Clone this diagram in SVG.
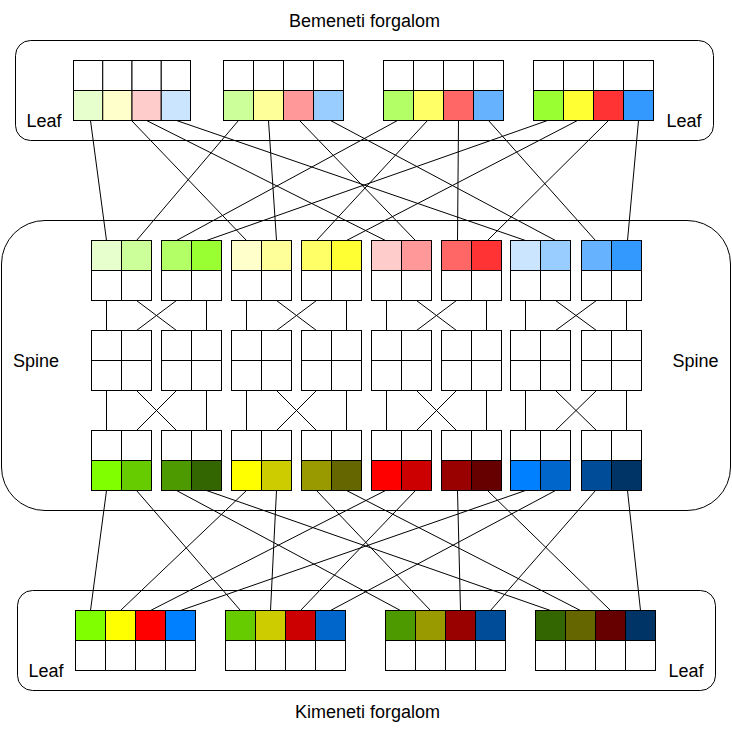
<svg xmlns="http://www.w3.org/2000/svg" width="732" height="731" viewBox="0 0 732 731">
<style>
.bg{fill:#fff}
.box{fill:none;stroke:#000;stroke-width:1}
.c{stroke:#000;stroke-width:1}
.w{fill:#fff}
.e line{stroke:#000;stroke-width:1;fill:none}
.t{font-family:"Liberation Sans",Arial,Helvetica,sans-serif;font-size:18px;fill:#000;text-anchor:middle}
</style>
<rect class="bg" x="0" y="0" width="732" height="731"/>
<g transform="translate(0.5,0.5)">
<g id="title-in"><text class="t" x="364" y="26.5">Bemeneti forgalom</text></g>
<g id="title-out"><text class="t" x="367" y="717">Kimeneti forgalom</text></g>

<g id="leaf-top-container">
<rect class="box" x="15" y="40" width="698" height="100" rx="15" ry="15"/>
<text class="t" x="43.5" y="126">Leaf</text>
<text class="t" x="683.5" y="126">Leaf</text>
</g>
<g id="spine-container">
<rect class="box" x="1" y="220" width="729" height="290" rx="43.5" ry="43.5"/>
<text class="t" x="35.5" y="366">Spine</text>
<text class="t" x="695" y="366">Spine</text>
</g>
<g id="leaf-bottom-container">
<rect class="box" x="17" y="590" width="698" height="100" rx="15" ry="15"/>
<text class="t" x="45.5" y="676">Leaf</text>
<text class="t" x="685.5" y="676">Leaf</text>
</g>

<g id="connectors" class="e">
<!-- top leaf to spine -->
<line x1="90" y1="120" x2="106" y2="240"/>
<line x1="131" y1="120" x2="246" y2="240"/>
<line x1="146" y1="120" x2="385" y2="240"/>
<line x1="176" y1="120" x2="525" y2="240"/>
<line x1="238" y1="120" x2="136" y2="240"/>
<line x1="268" y1="120" x2="276" y2="240"/>
<line x1="299" y1="120" x2="415" y2="240"/>
<line x1="330" y1="120" x2="555" y2="240"/>
<line x1="397" y1="120" x2="176" y2="240"/>
<line x1="427" y1="120" x2="316" y2="240"/>
<line x1="458" y1="120" x2="457" y2="240"/>
<line x1="488" y1="120" x2="595" y2="240"/>
<line x1="547" y1="120" x2="206" y2="240"/>
<line x1="577" y1="120" x2="346" y2="240"/>
<line x1="608" y1="120" x2="487" y2="240"/>
<line x1="638" y1="120" x2="627" y2="240"/>
<!-- spine to bottom leaf -->
<line x1="106" y1="490" x2="90" y2="610"/>
<line x1="136" y1="490" x2="240" y2="610"/>
<line x1="176" y1="490" x2="400" y2="610"/>
<line x1="206" y1="490" x2="550" y2="610"/>
<line x1="246" y1="490" x2="120" y2="610"/>
<line x1="276" y1="490" x2="270" y2="610"/>
<line x1="316" y1="490" x2="430" y2="610"/>
<line x1="346" y1="490" x2="580" y2="610"/>
<line x1="385" y1="490" x2="150" y2="610"/>
<line x1="415" y1="490" x2="300" y2="610"/>
<line x1="457" y1="490" x2="460" y2="610"/>
<line x1="487" y1="490" x2="610" y2="610"/>
<line x1="525" y1="490" x2="180" y2="610"/>
<line x1="555" y1="490" x2="330" y2="610"/>
<line x1="595" y1="490" x2="490" y2="610"/>
<line x1="627" y1="490" x2="640" y2="610"/>
<!-- spine internal: rows 300-330 -->
<line x1="106" y1="300" x2="106" y2="330"/><line x1="206" y1="300" x2="206" y2="330"/>
<line x1="136" y1="300" x2="176" y2="330"/><line x1="176" y1="300" x2="136" y2="330"/>
<line x1="246" y1="300" x2="246" y2="330"/><line x1="346" y1="300" x2="346" y2="330"/>
<line x1="276" y1="300" x2="316" y2="330"/><line x1="316" y1="300" x2="276" y2="330"/>
<line x1="386" y1="300" x2="386" y2="330"/><line x1="486" y1="300" x2="486" y2="330"/>
<line x1="416" y1="300" x2="456" y2="330"/><line x1="456" y1="300" x2="416" y2="330"/>
<line x1="525" y1="300" x2="525" y2="330"/><line x1="626" y1="300" x2="626" y2="330"/>
<line x1="555" y1="300" x2="596" y2="330"/><line x1="596" y1="300" x2="555" y2="330"/>
<!-- spine internal: rows 390-430 -->
<line x1="106" y1="390" x2="106" y2="430"/><line x1="206" y1="390" x2="206" y2="430"/>
<line x1="136" y1="390" x2="176" y2="430"/><line x1="176" y1="390" x2="136" y2="430"/>
<line x1="246" y1="390" x2="246" y2="430"/><line x1="346" y1="390" x2="346" y2="430"/>
<line x1="276" y1="390" x2="316" y2="430"/><line x1="316" y1="390" x2="276" y2="430"/>
<line x1="386" y1="390" x2="386" y2="430"/><line x1="486" y1="390" x2="486" y2="430"/>
<line x1="416" y1="390" x2="456" y2="430"/><line x1="456" y1="390" x2="416" y2="430"/>
<line x1="525" y1="390" x2="525" y2="430"/><line x1="626" y1="390" x2="626" y2="430"/>
<line x1="555" y1="390" x2="596" y2="430"/><line x1="596" y1="390" x2="555" y2="430"/>
</g>

<!-- top leaf blocks -->
<g id="leaf-in-1">
<rect class="c w" x="73" y="60" width="29.25" height="30"/><rect class="c w" x="102.25" y="60" width="29.25" height="30"/><rect class="c w" x="131.5" y="60" width="29.25" height="30"/><rect class="c w" x="160.75" y="60" width="29.25" height="30"/>
<rect class="c" fill="#E6FFCC" x="73" y="90" width="29.25" height="30"/><rect class="c" fill="#FFFFCC" x="102.25" y="90" width="29.25" height="30"/><rect class="c" fill="#FFCCCC" x="131.5" y="90" width="29.25" height="30"/><rect class="c" fill="#CCE5FF" x="160.75" y="90" width="29.25" height="30"/>
</g>
<g id="leaf-in-2">
<rect class="c w" x="223" y="60" width="30" height="30"/><rect class="c w" x="253" y="60" width="30" height="30"/><rect class="c w" x="283" y="60" width="30" height="30"/><rect class="c w" x="313" y="60" width="30" height="30"/>
<rect class="c" fill="#CCFF99" x="223" y="90" width="30" height="30"/><rect class="c" fill="#FFFF99" x="253" y="90" width="30" height="30"/><rect class="c" fill="#FF9999" x="283" y="90" width="30" height="30"/><rect class="c" fill="#99CCFF" x="313" y="90" width="30" height="30"/>
</g>
<g id="leaf-in-3">
<rect class="c w" x="383" y="60" width="30" height="30"/><rect class="c w" x="413" y="60" width="30" height="30"/><rect class="c w" x="443" y="60" width="30" height="30"/><rect class="c w" x="473" y="60" width="30" height="30"/>
<rect class="c" fill="#B3FF66" x="383" y="90" width="30" height="30"/><rect class="c" fill="#FFFF66" x="413" y="90" width="30" height="30"/><rect class="c" fill="#FF6666" x="443" y="90" width="30" height="30"/><rect class="c" fill="#66B2FF" x="473" y="90" width="30" height="30"/>
</g>
<g id="leaf-in-4">
<rect class="c w" x="533" y="60" width="30" height="30"/><rect class="c w" x="563" y="60" width="30" height="30"/><rect class="c w" x="593" y="60" width="30" height="30"/><rect class="c w" x="623" y="60" width="30" height="30"/>
<rect class="c" fill="#99FF33" x="533" y="90" width="30" height="30"/><rect class="c" fill="#FFFF33" x="563" y="90" width="30" height="30"/><rect class="c" fill="#FF3333" x="593" y="90" width="30" height="30"/><rect class="c" fill="#3399FF" x="623" y="90" width="30" height="30"/>
</g>

<!-- spine blocks: top row -->
<g id="spine-top-1"><rect class="c" fill="#E6FFCC" x="91" y="240" width="30" height="30"/><rect class="c" fill="#CCFF99" x="121" y="240" width="30" height="30"/><rect class="c w" x="91" y="270" width="30" height="30"/><rect class="c w" x="121" y="270" width="30" height="30"/></g>
<g id="spine-top-2"><rect class="c" fill="#B3FF66" x="161" y="240" width="30" height="30"/><rect class="c" fill="#99FF33" x="191" y="240" width="30" height="30"/><rect class="c w" x="161" y="270" width="30" height="30"/><rect class="c w" x="191" y="270" width="30" height="30"/></g>
<g id="spine-top-3"><rect class="c" fill="#FFFFCC" x="231" y="240" width="30" height="30"/><rect class="c" fill="#FFFF99" x="261" y="240" width="30" height="30"/><rect class="c w" x="231" y="270" width="30" height="30"/><rect class="c w" x="261" y="270" width="30" height="30"/></g>
<g id="spine-top-4"><rect class="c" fill="#FFFF66" x="301" y="240" width="30" height="30"/><rect class="c" fill="#FFFF33" x="331" y="240" width="30" height="30"/><rect class="c w" x="301" y="270" width="30" height="30"/><rect class="c w" x="331" y="270" width="30" height="30"/></g>
<g id="spine-top-5"><rect class="c" fill="#FFCCCC" x="371" y="240" width="30" height="30"/><rect class="c" fill="#FF9999" x="401" y="240" width="30" height="30"/><rect class="c w" x="371" y="270" width="30" height="30"/><rect class="c w" x="401" y="270" width="30" height="30"/></g>
<g id="spine-top-6"><rect class="c" fill="#FF6666" x="441" y="240" width="30" height="30"/><rect class="c" fill="#FF3333" x="471" y="240" width="30" height="30"/><rect class="c w" x="441" y="270" width="30" height="30"/><rect class="c w" x="471" y="270" width="30" height="30"/></g>
<g id="spine-top-7"><rect class="c" fill="#CCE5FF" x="510" y="240" width="30" height="30"/><rect class="c" fill="#99CCFF" x="540" y="240" width="30" height="30"/><rect class="c w" x="510" y="270" width="30" height="30"/><rect class="c w" x="540" y="270" width="30" height="30"/></g>
<g id="spine-top-8"><rect class="c" fill="#66B2FF" x="581" y="240" width="30" height="30"/><rect class="c" fill="#3399FF" x="611" y="240" width="30" height="30"/><rect class="c w" x="581" y="270" width="30" height="30"/><rect class="c w" x="611" y="270" width="30" height="30"/></g>

<!-- spine blocks: middle row -->
<g id="spine-mid-1"><rect class="c w" x="91" y="330" width="30" height="30"/><rect class="c w" x="121" y="330" width="30" height="30"/><rect class="c w" x="91" y="360" width="30" height="30"/><rect class="c w" x="121" y="360" width="30" height="30"/></g>
<g id="spine-mid-2"><rect class="c w" x="161" y="330" width="30" height="30"/><rect class="c w" x="191" y="330" width="30" height="30"/><rect class="c w" x="161" y="360" width="30" height="30"/><rect class="c w" x="191" y="360" width="30" height="30"/></g>
<g id="spine-mid-3"><rect class="c w" x="231" y="330" width="30" height="30"/><rect class="c w" x="261" y="330" width="30" height="30"/><rect class="c w" x="231" y="360" width="30" height="30"/><rect class="c w" x="261" y="360" width="30" height="30"/></g>
<g id="spine-mid-4"><rect class="c w" x="301" y="330" width="30" height="30"/><rect class="c w" x="331" y="330" width="30" height="30"/><rect class="c w" x="301" y="360" width="30" height="30"/><rect class="c w" x="331" y="360" width="30" height="30"/></g>
<g id="spine-mid-5"><rect class="c w" x="371" y="330" width="30" height="30"/><rect class="c w" x="401" y="330" width="30" height="30"/><rect class="c w" x="371" y="360" width="30" height="30"/><rect class="c w" x="401" y="360" width="30" height="30"/></g>
<g id="spine-mid-6"><rect class="c w" x="441" y="330" width="30" height="30"/><rect class="c w" x="471" y="330" width="30" height="30"/><rect class="c w" x="441" y="360" width="30" height="30"/><rect class="c w" x="471" y="360" width="30" height="30"/></g>
<g id="spine-mid-7"><rect class="c w" x="510" y="330" width="30" height="30"/><rect class="c w" x="540" y="330" width="30" height="30"/><rect class="c w" x="510" y="360" width="30" height="30"/><rect class="c w" x="540" y="360" width="30" height="30"/></g>
<g id="spine-mid-8"><rect class="c w" x="581" y="330" width="30" height="30"/><rect class="c w" x="611" y="330" width="30" height="30"/><rect class="c w" x="581" y="360" width="30" height="30"/><rect class="c w" x="611" y="360" width="30" height="30"/></g>

<!-- spine blocks: bottom row -->
<g id="spine-bot-1"><rect class="c w" x="91" y="430" width="30" height="30"/><rect class="c w" x="121" y="430" width="30" height="30"/><rect class="c" fill="#80FF00" x="91" y="460" width="30" height="30"/><rect class="c" fill="#66CC00" x="121" y="460" width="30" height="30"/></g>
<g id="spine-bot-2"><rect class="c w" x="161" y="430" width="30" height="30"/><rect class="c w" x="191" y="430" width="30" height="30"/><rect class="c" fill="#4D9900" x="161" y="460" width="30" height="30"/><rect class="c" fill="#336600" x="191" y="460" width="30" height="30"/></g>
<g id="spine-bot-3"><rect class="c w" x="231" y="430" width="30" height="30"/><rect class="c w" x="261" y="430" width="30" height="30"/><rect class="c" fill="#FFFF00" x="231" y="460" width="30" height="30"/><rect class="c" fill="#CCCC00" x="261" y="460" width="30" height="30"/></g>
<g id="spine-bot-4"><rect class="c w" x="301" y="430" width="30" height="30"/><rect class="c w" x="331" y="430" width="30" height="30"/><rect class="c" fill="#999900" x="301" y="460" width="30" height="30"/><rect class="c" fill="#666600" x="331" y="460" width="30" height="30"/></g>
<g id="spine-bot-5"><rect class="c w" x="371" y="430" width="30" height="30"/><rect class="c w" x="401" y="430" width="30" height="30"/><rect class="c" fill="#FF0000" x="371" y="460" width="30" height="30"/><rect class="c" fill="#CC0000" x="401" y="460" width="30" height="30"/></g>
<g id="spine-bot-6"><rect class="c w" x="441" y="430" width="30" height="30"/><rect class="c w" x="471" y="430" width="30" height="30"/><rect class="c" fill="#990000" x="441" y="460" width="30" height="30"/><rect class="c" fill="#660000" x="471" y="460" width="30" height="30"/></g>
<g id="spine-bot-7"><rect class="c w" x="510" y="430" width="30" height="30"/><rect class="c w" x="540" y="430" width="30" height="30"/><rect class="c" fill="#007FFF" x="510" y="460" width="30" height="30"/><rect class="c" fill="#0066CC" x="540" y="460" width="30" height="30"/></g>
<g id="spine-bot-8"><rect class="c w" x="581" y="430" width="30" height="30"/><rect class="c w" x="611" y="430" width="30" height="30"/><rect class="c" fill="#004C99" x="581" y="460" width="30" height="30"/><rect class="c" fill="#003366" x="611" y="460" width="30" height="30"/></g>

<!-- bottom leaf blocks -->
<g id="leaf-out-1">
<rect class="c" fill="#80FF00" x="75" y="610" width="30" height="30"/><rect class="c" fill="#FFFF00" x="105" y="610" width="30" height="30"/><rect class="c" fill="#FF0000" x="135" y="610" width="30" height="30"/><rect class="c" fill="#007FFF" x="165" y="610" width="30" height="30"/>
<rect class="c w" x="75" y="640" width="30" height="30"/><rect class="c w" x="105" y="640" width="30" height="30"/><rect class="c w" x="135" y="640" width="30" height="30"/><rect class="c w" x="165" y="640" width="30" height="30"/>
</g>
<g id="leaf-out-2">
<rect class="c" fill="#66CC00" x="225" y="610" width="30" height="30"/><rect class="c" fill="#CCCC00" x="255" y="610" width="30" height="30"/><rect class="c" fill="#CC0000" x="285" y="610" width="30" height="30"/><rect class="c" fill="#0066CC" x="315" y="610" width="30" height="30"/>
<rect class="c w" x="225" y="640" width="30" height="30"/><rect class="c w" x="255" y="640" width="30" height="30"/><rect class="c w" x="285" y="640" width="30" height="30"/><rect class="c w" x="315" y="640" width="30" height="30"/>
</g>
<g id="leaf-out-3">
<rect class="c" fill="#4D9900" x="385" y="610" width="30" height="30"/><rect class="c" fill="#999900" x="415" y="610" width="30" height="30"/><rect class="c" fill="#990000" x="445" y="610" width="30" height="30"/><rect class="c" fill="#004C99" x="475" y="610" width="30" height="30"/>
<rect class="c w" x="385" y="640" width="30" height="30"/><rect class="c w" x="415" y="640" width="30" height="30"/><rect class="c w" x="445" y="640" width="30" height="30"/><rect class="c w" x="475" y="640" width="30" height="30"/>
</g>
<g id="leaf-out-4">
<rect class="c" fill="#336600" x="535" y="610" width="30" height="30"/><rect class="c" fill="#666600" x="565" y="610" width="30" height="30"/><rect class="c" fill="#660000" x="595" y="610" width="30" height="30"/><rect class="c" fill="#003366" x="625" y="610" width="30" height="30"/>
<rect class="c w" x="535" y="640" width="30" height="30"/><rect class="c w" x="565" y="640" width="30" height="30"/><rect class="c w" x="595" y="640" width="30" height="30"/><rect class="c w" x="625" y="640" width="30" height="30"/>
</g>
</g>
</svg>
